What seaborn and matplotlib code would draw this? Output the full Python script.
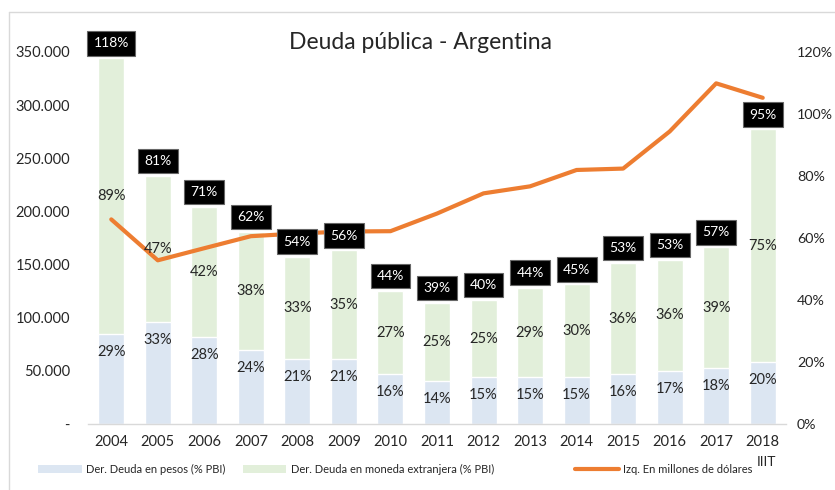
"""
Deuda pública - Argentina: stacked bars (% PBI, right axis) plus the
debt stock in millions of dollars (line, left axis).
"""
import numpy as np
import pandas as pd
import matplotlib.pyplot as plt
from matplotlib.patches import Patch
from matplotlib.lines import Line2D
from matplotlib.ticker import FuncFormatter, MultipleLocator
import seaborn as sns

years = ['2004', '2005', '2006', '2007', '2008', '2009', '2010', '2011',
         '2012', '2013', '2014', '2015', '2016', '2017', '2018']
pesos = [29, 33, 28, 24, 21, 21, 16, 14, 15, 15, 15, 16, 17, 18, 20]
extranjera = [89, 47, 42, 38, 33, 35, 27, 25, 25, 29, 30, 36, 36, 39, 75]
totales = [118, 81, 71, 62, 54, 56, 44, 39, 40, 44, 45, 53, 53, 57, 95]
deuda_usd = [192500, 154000, 165400, 176700, 179200, 181100, 181400, 198000,
             217000, 223600, 239000, 240300, 275200, 320500, 306900]

C_PESOS = '#DCE6F2'
C_EXT = '#E2EFDA'
C_LINE = '#ED7D31'
GRID_GRAY = '#D9D9D9'


def main():
    sns.set_style('white')
    plt.rcParams['font.family'] = ['Lato', 'DejaVu Sans']

    df = pd.DataFrame({'year': years, 'pesos': pesos, 'ext': extranjera,
                       'total': totales, 'usd': deuda_usd})
    df['stack'] = df['pesos'] + df['ext']

    fig = plt.figure(figsize=(8.35, 4.9), dpi=100)
    ax = fig.add_axes([0.1054, 0.1347, 0.8359, 0.7592])

    # stacked bars on the percent scale (drawn as full stack, then pesos on top)
    sns.barplot(data=df, x='year', y='stack', color=C_EXT, saturation=1,
                width=0.56, errorbar=None, ax=ax, zorder=1)
    sns.barplot(data=df, x='year', y='pesos', color=C_PESOS, saturation=1,
                width=0.56, errorbar=None, ax=ax, zorder=1)

    # line on the dollar scale
    ax2 = ax.twinx()
    sns.lineplot(data=df, x='year', y='usd', color=C_LINE, lw=3, sort=False,
                 ax=ax2, zorder=2)
    ax2.set_ylim(0, 350000)
    ax2.yaxis.set_major_locator(MultipleLocator(50000))
    ax2.yaxis.tick_left()
    ax2.yaxis.set_major_formatter(FuncFormatter(
        lambda v, p: '-' if v == 0 else f'{v:,.0f}'.replace(',', '.')))
    ax2.tick_params(axis='y', length=0, pad=13, labelsize=10.5)

    # percent axis goes to the right (after twinx, which resets it)
    ax.set_ylim(0, 120)
    ax.yaxis.set_major_locator(MultipleLocator(20))
    ax.yaxis.tick_right()
    ax.yaxis.set_major_formatter(FuncFormatter(lambda v, p: f'{v:.0f}%'))
    ax.tick_params(axis='y', length=0, pad=8, labelsize=10.3)

    # labels: drawn on ax2 (on top of the line) but in bar coordinates
    for i, row in df.iterrows():
        ax2.text(i, row['pesos'] - 5.8, f"{row['pesos']}%", transform=ax.transData,
                 ha='center', va='center', fontsize=10.5, color='#262626', zorder=5)
        ax2.text(i, row['pesos'] + row['ext'] / 2, f"{row['ext']}%",
                 transform=ax.transData, ha='center', va='center',
                 fontsize=10.5, color='#262626', zorder=5)
        ax2.text(i, row['stack'] + 4.8, f"{row['total']}%", transform=ax.transData,
                 ha='center', va='center', fontsize=10, color='white', zorder=6,
                 bbox=dict(boxstyle='square,pad=0.45', fc='black', ec='#666666',
                           lw=0.8))

    for a in (ax, ax2):
        a.set_xlabel('')
        a.set_ylabel('')
        for s in ('left', 'right', 'top'):
            a.spines[s].set_visible(False)
    ax2.spines['bottom'].set_visible(False)
    ax.spines['bottom'].set_color(GRID_GRAY)
    ax.spines['bottom'].set_linewidth(1)

    ax.set_xlim(-0.5, len(years) - 0.5)
    ax.set_xticks(np.arange(-0.5, len(years)), minor=True)
    ax.tick_params(axis='x', which='major', length=0, pad=8, labelsize=10.5)
    ax.tick_params(axis='x', which='minor', length=5, color=GRID_GRAY, width=1)

    fig.suptitle('Deuda pública - Argentina', x=0.503, y=0.914, fontsize=16.5,
                 va='center')

    # legend entries placed individually, as in the original
    entries = [
        (Patch(fc=C_PESOS, ec='none'), 'Der. Deuda en pesos (% PBI)', 0.046),
        (Patch(fc=C_EXT, ec='none'), 'Der. Deuda en moneda extranjera (% PBI)', 0.291),
        (Line2D([], [], color=C_LINE, lw=3), 'Izq. En millones de dólares', 0.689),
    ]
    for handle, label, x0 in entries:
        fig.legend([handle], [label], loc='center left', bbox_to_anchor=(x0, 0.042),
                   frameon=False, fontsize=8, handlelength=3.9, handletextpad=0.4,
                   borderpad=0, borderaxespad=0)
    fig.text(0.906, 0.057, 'IIIT', fontsize=10, ha='left', va='center')

    # light chart border
    fig.add_artist(Line2D([0.011, 0.011], [0, 0.976], color=GRID_GRAY, lw=1))
    fig.add_artist(Line2D([0.011, 1.0], [0.976, 0.976], color=GRID_GRAY, lw=1))

    fig.savefig('out.png', dpi=100)


if __name__ == '__main__':
    main()
